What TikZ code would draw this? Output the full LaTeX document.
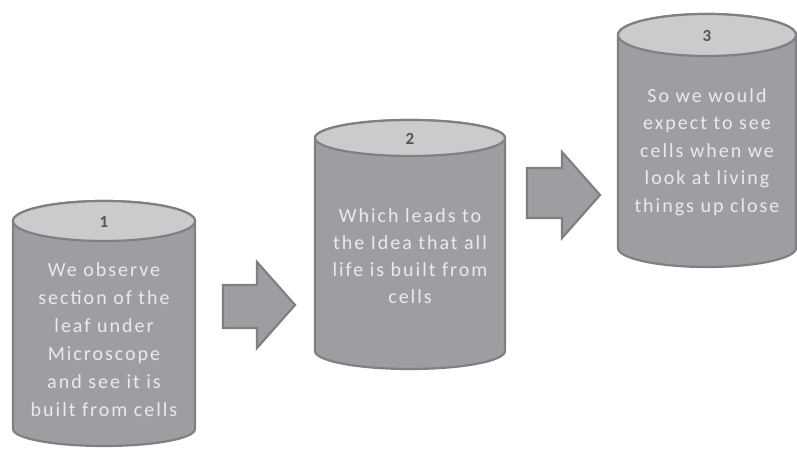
\documentclass[tikz,border=0pt]{standalone}
\usepackage{fontspec}
\setmainfont{Carlito}
\newfontfamily\bodyfont[LetterSpace=10]{Carlito}
\definecolor{bodygray}{HTML}{9E9EA2}
\definecolor{edgegray}{HTML}{808082}
\definecolor{topgray}{HTML}{CBCBCD}
\definecolor{txtgray}{HTML}{EAEAEA}
\definecolor{numgray}{HTML}{555555}
\tikzset{
  cylbody/.style={fill=bodygray, draw=edgegray, line width=2.2pt, line join=round},
  cyltop/.style={fill=topgray, draw=edgegray, line width=2.2pt},
  blockarrow/.style={fill=bodygray, draw=edgegray, line width=2.2pt, line join=miter},
  bodytext/.style={text=txtgray, align=center, inner sep=0pt, font=\bodyfont\fontsize{20}{#1}\selectfont},
  numtext/.style={text=numgray, font=\fontsize{17}{20}\selectfont\bfseries}
}
\newcommand{\mycyl}[6]{% cx, rx, topy, topry, boty, botry
  \draw[cylbody] (#1-#2,#3) -- (#1-#2,#5) arc[start angle=180,end angle=0,x radius=#2,y radius=#6] -- (#1+#2,#3) arc[start angle=0,end angle=-180,x radius=#2,y radius=#4] -- cycle;
  \draw[cyltop] (#1,#3) ellipse[x radius=#2,y radius=#4];
}
\begin{document}
\begin{tikzpicture}[x=1pt,y=-1pt]
\useasboundingbox (0,0) rectangle (797,449);
% cylinders
\mycyl{104}{91}{221}{20}{429}{17}
\mycyl{410}{95}{138}{18}{351}{18}
\mycyl{707}{89}{35}{21}{248}{19}
% numbers
\node[numtext] (n1) at (104,222) {1};
\node[numtext] (n2) at (410,139) {2};
\node[numtext] (n3) at (707,36) {3};
% texts
\node[bodytext=28] (t1) at (104,340) {We observe\\section of the\\leaf under\\Microscope\\and see it is\\built from cells};
\node[bodytext=27] (t2) at (410,256) {Which leads to\\the Idea that all\\life is built from\\cells};
\node[bodytext=27.5] (t3) at (707,152) {So we would\\expect to see\\cells when we\\look at living\\things up close};
% arrows
\draw[blockarrow] (223,285) -- (257,285) -- (257,262) -- (295,305) -- (257,348) -- (257,328) -- (223,328) -- cycle;
\draw[blockarrow] (527,168) -- (562,168) -- (562,152) -- (600,195) -- (562,238) -- (562,218) -- (527,218) -- cycle;
\end{tikzpicture}
\end{document}
